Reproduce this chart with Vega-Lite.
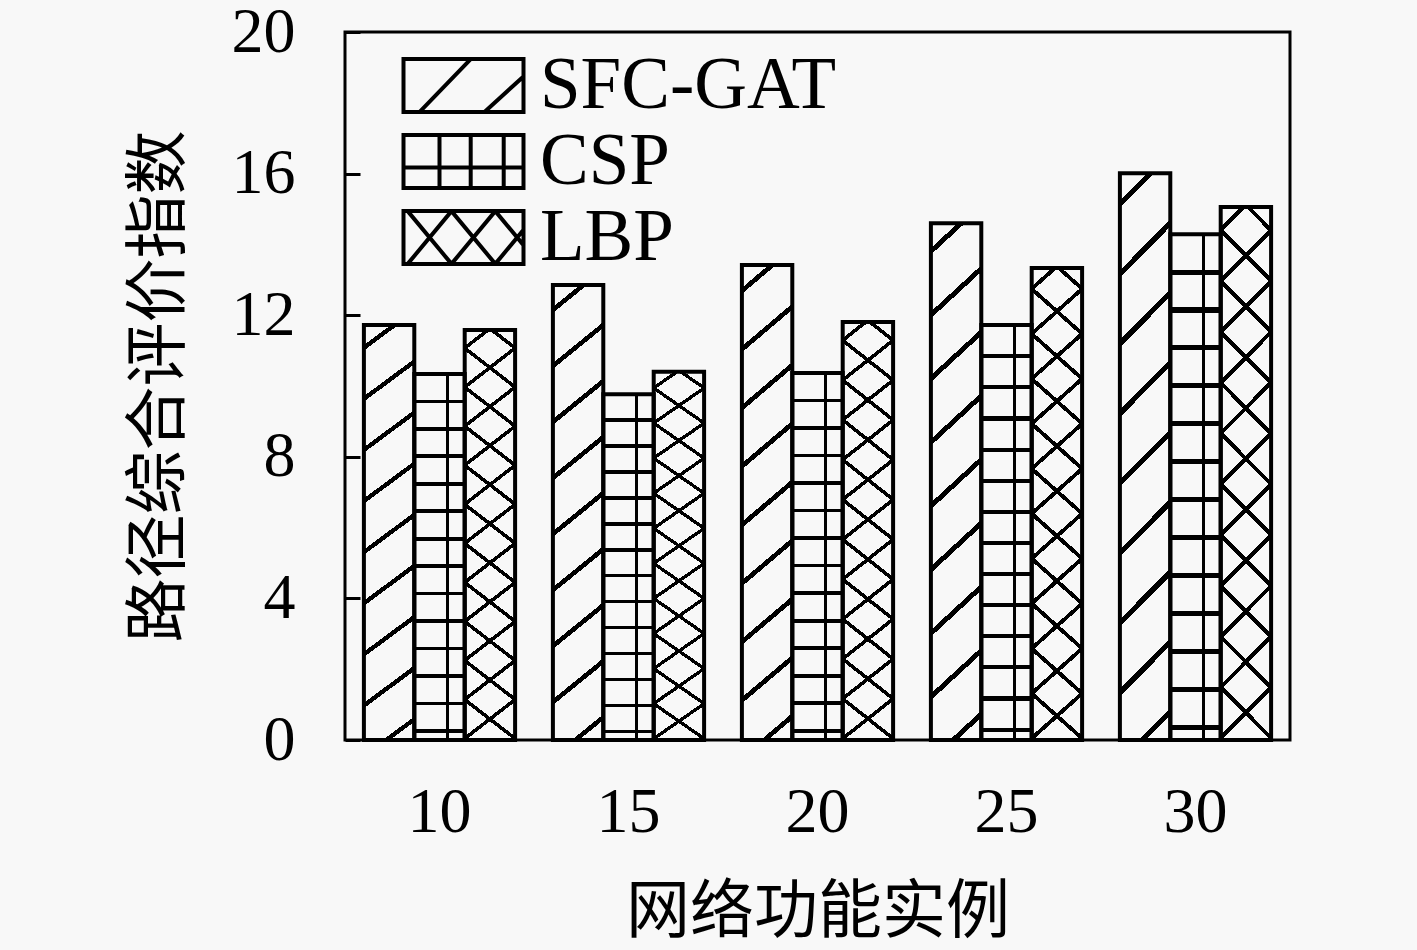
{
  "$schema": "https://vega.github.io/schema/vega-lite/v6.json",
  "description": "路径综合评价指数 vs 网络功能实例, three methods, hatched bars",
  "width": 945,
  "height": 708,
  "autosize": "none",
  "padding": {"left": 345, "top": 32, "right": 127, "bottom": 210},
  "background": "#f8f8f8",
  "data": {
    "values": [
      {"n": "10", "series": "SFC-GAT", "value": 11.72},
      {"n": "10", "series": "CSP", "value": 10.34},
      {"n": "10", "series": "LBP", "value": 11.58},
      {"n": "15", "series": "SFC-GAT", "value": 12.85},
      {"n": "15", "series": "CSP", "value": 9.77},
      {"n": "15", "series": "LBP", "value": 10.4},
      {"n": "20", "series": "SFC-GAT", "value": 13.42},
      {"n": "20", "series": "CSP", "value": 10.37},
      {"n": "20", "series": "LBP", "value": 11.81},
      {"n": "25", "series": "SFC-GAT", "value": 14.6},
      {"n": "25", "series": "CSP", "value": 11.72},
      {"n": "25", "series": "LBP", "value": 13.33},
      {"n": "30", "series": "SFC-GAT", "value": 16.01},
      {"n": "30", "series": "CSP", "value": 14.29},
      {"n": "30", "series": "LBP", "value": 15.06}
    ]
  },
  "encoding": {
    "x": {
      "field": "n",
      "type": "ordinal",
      "title": "网络功能实例",
      "scale": {"paddingInner": 0.2, "paddingOuter": 0.1},
      "axis": {
        "labelAngle": 0,
        "ticks": false,
        "tickSize": 0,
        "domain": false,
        "labelPadding": 40,
        "titlePadding": 36
      }
    },
    "xOffset": {
      "field": "series",
      "type": "nominal",
      "scale": {"domain": ["SFC-GAT", "CSP", "LBP"], "paddingInner": 0, "paddingOuter": 0}
    },
    "y": {
      "field": "value",
      "type": "quantitative",
      "title": "路径综合评价指数",
      "scale": {"domain": [0, 20], "nice": false},
      "axis": {
        "values": [0, 4, 8, 12, 16, 20],
        "grid": false,
        "domain": false,
        "tickSize": -15,
        "tickWidth": 3,
        "tickColor": "black",
        "labelPadding": 65,
        "titlePadding": 40
      }
    }
  },
  "layer": [
    {
      "transform": [{"filter": "datum.series == 'SFC-GAT'"}],
      "mark": {
        "type": "bar",
        "stroke": "black",
        "strokeWidth": 4,
        "fill": {
          "gradient": "linear",
          "x1": 0, "y1": 0, "x2": 0.0973, "y2": 1.0813,
          "stops": [
            {"offset": 0, "color": "rgba(0,0,0,0)"},
            {"offset": 0.044, "color": "rgba(0,0,0,0)"}, {"offset": 0.044, "color": "#000"}, {"offset": 0.056, "color": "#000"}, {"offset": 0.056, "color": "rgba(0,0,0,0)"},
            {"offset": 0.157, "color": "rgba(0,0,0,0)"}, {"offset": 0.157, "color": "#000"}, {"offset": 0.169, "color": "#000"}, {"offset": 0.169, "color": "rgba(0,0,0,0)"},
            {"offset": 0.27, "color": "rgba(0,0,0,0)"}, {"offset": 0.27, "color": "#000"}, {"offset": 0.282, "color": "#000"}, {"offset": 0.282, "color": "rgba(0,0,0,0)"},
            {"offset": 0.383, "color": "rgba(0,0,0,0)"}, {"offset": 0.383, "color": "#000"}, {"offset": 0.395, "color": "#000"}, {"offset": 0.395, "color": "rgba(0,0,0,0)"},
            {"offset": 0.496, "color": "rgba(0,0,0,0)"}, {"offset": 0.496, "color": "#000"}, {"offset": 0.508, "color": "#000"}, {"offset": 0.508, "color": "rgba(0,0,0,0)"},
            {"offset": 0.609, "color": "rgba(0,0,0,0)"}, {"offset": 0.609, "color": "#000"}, {"offset": 0.621, "color": "#000"}, {"offset": 0.621, "color": "rgba(0,0,0,0)"},
            {"offset": 0.722, "color": "rgba(0,0,0,0)"}, {"offset": 0.722, "color": "#000"}, {"offset": 0.734, "color": "#000"}, {"offset": 0.734, "color": "rgba(0,0,0,0)"},
            {"offset": 0.835, "color": "rgba(0,0,0,0)"}, {"offset": 0.835, "color": "#000"}, {"offset": 0.847, "color": "#000"}, {"offset": 0.847, "color": "rgba(0,0,0,0)"},
            {"offset": 0.948, "color": "rgba(0,0,0,0)"}, {"offset": 0.948, "color": "#000"}, {"offset": 0.96, "color": "#000"}, {"offset": 0.96, "color": "rgba(0,0,0,0)"},
            {"offset": 1, "color": "rgba(0,0,0,0)"}
          ]
        }
      }
    },
    {
      "transform": [{"filter": "datum.series == 'CSP'"}],
      "mark": {
        "type": "bar",
        "strokeWidth": 0,
        "fill": {
          "gradient": "linear",
          "x1": 0, "y1": 0, "x2": 0, "y2": 1,
          "stops": [
            {"offset": 0, "color": "rgba(0,0,0,0)"},
            {"offset": 0.07, "color": "rgba(0,0,0,0)"}, {"offset": 0.07, "color": "#000"}, {"offset": 0.08, "color": "#000"}, {"offset": 0.08, "color": "rgba(0,0,0,0)"},
            {"offset": 0.145, "color": "rgba(0,0,0,0)"}, {"offset": 0.145, "color": "#000"}, {"offset": 0.155, "color": "#000"}, {"offset": 0.155, "color": "rgba(0,0,0,0)"},
            {"offset": 0.22, "color": "rgba(0,0,0,0)"}, {"offset": 0.22, "color": "#000"}, {"offset": 0.23, "color": "#000"}, {"offset": 0.23, "color": "rgba(0,0,0,0)"},
            {"offset": 0.295, "color": "rgba(0,0,0,0)"}, {"offset": 0.295, "color": "#000"}, {"offset": 0.305, "color": "#000"}, {"offset": 0.305, "color": "rgba(0,0,0,0)"},
            {"offset": 0.37, "color": "rgba(0,0,0,0)"}, {"offset": 0.37, "color": "#000"}, {"offset": 0.38, "color": "#000"}, {"offset": 0.38, "color": "rgba(0,0,0,0)"},
            {"offset": 0.445, "color": "rgba(0,0,0,0)"}, {"offset": 0.445, "color": "#000"}, {"offset": 0.455, "color": "#000"}, {"offset": 0.455, "color": "rgba(0,0,0,0)"},
            {"offset": 0.52, "color": "rgba(0,0,0,0)"}, {"offset": 0.52, "color": "#000"}, {"offset": 0.53, "color": "#000"}, {"offset": 0.53, "color": "rgba(0,0,0,0)"},
            {"offset": 0.595, "color": "rgba(0,0,0,0)"}, {"offset": 0.595, "color": "#000"}, {"offset": 0.605, "color": "#000"}, {"offset": 0.605, "color": "rgba(0,0,0,0)"},
            {"offset": 0.67, "color": "rgba(0,0,0,0)"}, {"offset": 0.67, "color": "#000"}, {"offset": 0.68, "color": "#000"}, {"offset": 0.68, "color": "rgba(0,0,0,0)"},
            {"offset": 0.745, "color": "rgba(0,0,0,0)"}, {"offset": 0.745, "color": "#000"}, {"offset": 0.755, "color": "#000"}, {"offset": 0.755, "color": "rgba(0,0,0,0)"},
            {"offset": 0.82, "color": "rgba(0,0,0,0)"}, {"offset": 0.82, "color": "#000"}, {"offset": 0.83, "color": "#000"}, {"offset": 0.83, "color": "rgba(0,0,0,0)"},
            {"offset": 0.895, "color": "rgba(0,0,0,0)"}, {"offset": 0.895, "color": "#000"}, {"offset": 0.905, "color": "#000"}, {"offset": 0.905, "color": "rgba(0,0,0,0)"},
            {"offset": 0.97, "color": "rgba(0,0,0,0)"}, {"offset": 0.97, "color": "#000"}, {"offset": 0.98, "color": "#000"}, {"offset": 0.98, "color": "rgba(0,0,0,0)"},
            {"offset": 1, "color": "rgba(0,0,0,0)"}
          ]
        }
      }
    },
    {
      "transform": [{"filter": "datum.series == 'CSP'"}],
      "mark": {
        "type": "bar",
        "stroke": "black",
        "strokeWidth": 4,
        "fill": {
          "gradient": "linear",
          "x1": 0, "y1": 0, "x2": 1, "y2": 0,
          "stops": [
            {"offset": 0, "color": "rgba(0,0,0,0)"},
            {"offset": 0.63, "color": "rgba(0,0,0,0)"}, {"offset": 0.63, "color": "#000"}, {"offset": 0.69, "color": "#000"}, {"offset": 0.69, "color": "rgba(0,0,0,0)"},
            {"offset": 1, "color": "rgba(0,0,0,0)"}
          ]
        }
      }
    },
    {
      "transform": [{"filter": "datum.series == 'LBP'"}],
      "mark": {
        "type": "bar",
        "strokeWidth": 0,
        "fill": {
          "gradient": "linear",
          "x1": 1, "y1": 0, "x2": 0.8969, "y2": 1.0852,
          "stops": [
            {"offset": 0, "color": "rgba(0,0,0,0)"},
            {"offset": 0.035, "color": "rgba(0,0,0,0)"}, {"offset": 0.035, "color": "#000"}, {"offset": 0.045, "color": "#000"}, {"offset": 0.045, "color": "rgba(0,0,0,0)"},
            {"offset": 0.122, "color": "rgba(0,0,0,0)"}, {"offset": 0.122, "color": "#000"}, {"offset": 0.132, "color": "#000"}, {"offset": 0.132, "color": "rgba(0,0,0,0)"},
            {"offset": 0.209, "color": "rgba(0,0,0,0)"}, {"offset": 0.209, "color": "#000"}, {"offset": 0.219, "color": "#000"}, {"offset": 0.219, "color": "rgba(0,0,0,0)"},
            {"offset": 0.296, "color": "rgba(0,0,0,0)"}, {"offset": 0.296, "color": "#000"}, {"offset": 0.306, "color": "#000"}, {"offset": 0.306, "color": "rgba(0,0,0,0)"},
            {"offset": 0.383, "color": "rgba(0,0,0,0)"}, {"offset": 0.383, "color": "#000"}, {"offset": 0.393, "color": "#000"}, {"offset": 0.393, "color": "rgba(0,0,0,0)"},
            {"offset": 0.47, "color": "rgba(0,0,0,0)"}, {"offset": 0.47, "color": "#000"}, {"offset": 0.48, "color": "#000"}, {"offset": 0.48, "color": "rgba(0,0,0,0)"},
            {"offset": 0.557, "color": "rgba(0,0,0,0)"}, {"offset": 0.557, "color": "#000"}, {"offset": 0.567, "color": "#000"}, {"offset": 0.567, "color": "rgba(0,0,0,0)"},
            {"offset": 0.644, "color": "rgba(0,0,0,0)"}, {"offset": 0.644, "color": "#000"}, {"offset": 0.654, "color": "#000"}, {"offset": 0.654, "color": "rgba(0,0,0,0)"},
            {"offset": 0.731, "color": "rgba(0,0,0,0)"}, {"offset": 0.731, "color": "#000"}, {"offset": 0.741, "color": "#000"}, {"offset": 0.741, "color": "rgba(0,0,0,0)"},
            {"offset": 0.818, "color": "rgba(0,0,0,0)"}, {"offset": 0.818, "color": "#000"}, {"offset": 0.828, "color": "#000"}, {"offset": 0.828, "color": "rgba(0,0,0,0)"},
            {"offset": 0.905, "color": "rgba(0,0,0,0)"}, {"offset": 0.905, "color": "#000"}, {"offset": 0.915, "color": "#000"}, {"offset": 0.915, "color": "rgba(0,0,0,0)"},
            {"offset": 1, "color": "rgba(0,0,0,0)"}
          ]
        }
      }
    },
    {
      "transform": [{"filter": "datum.series == 'LBP'"}],
      "mark": {
        "type": "bar",
        "stroke": "black",
        "strokeWidth": 4,
        "fill": {
          "gradient": "linear",
          "x1": 0, "y1": 0, "x2": 0.1031, "y2": 1.0852,
          "stops": [
            {"offset": 0, "color": "rgba(0,0,0,0)"},
            {"offset": 0.035, "color": "rgba(0,0,0,0)"}, {"offset": 0.035, "color": "#000"}, {"offset": 0.045, "color": "#000"}, {"offset": 0.045, "color": "rgba(0,0,0,0)"},
            {"offset": 0.122, "color": "rgba(0,0,0,0)"}, {"offset": 0.122, "color": "#000"}, {"offset": 0.132, "color": "#000"}, {"offset": 0.132, "color": "rgba(0,0,0,0)"},
            {"offset": 0.209, "color": "rgba(0,0,0,0)"}, {"offset": 0.209, "color": "#000"}, {"offset": 0.219, "color": "#000"}, {"offset": 0.219, "color": "rgba(0,0,0,0)"},
            {"offset": 0.296, "color": "rgba(0,0,0,0)"}, {"offset": 0.296, "color": "#000"}, {"offset": 0.306, "color": "#000"}, {"offset": 0.306, "color": "rgba(0,0,0,0)"},
            {"offset": 0.383, "color": "rgba(0,0,0,0)"}, {"offset": 0.383, "color": "#000"}, {"offset": 0.393, "color": "#000"}, {"offset": 0.393, "color": "rgba(0,0,0,0)"},
            {"offset": 0.47, "color": "rgba(0,0,0,0)"}, {"offset": 0.47, "color": "#000"}, {"offset": 0.48, "color": "#000"}, {"offset": 0.48, "color": "rgba(0,0,0,0)"},
            {"offset": 0.557, "color": "rgba(0,0,0,0)"}, {"offset": 0.557, "color": "#000"}, {"offset": 0.567, "color": "#000"}, {"offset": 0.567, "color": "rgba(0,0,0,0)"},
            {"offset": 0.644, "color": "rgba(0,0,0,0)"}, {"offset": 0.644, "color": "#000"}, {"offset": 0.654, "color": "#000"}, {"offset": 0.654, "color": "rgba(0,0,0,0)"},
            {"offset": 0.731, "color": "rgba(0,0,0,0)"}, {"offset": 0.731, "color": "#000"}, {"offset": 0.741, "color": "#000"}, {"offset": 0.741, "color": "rgba(0,0,0,0)"},
            {"offset": 0.818, "color": "rgba(0,0,0,0)"}, {"offset": 0.818, "color": "#000"}, {"offset": 0.828, "color": "#000"}, {"offset": 0.828, "color": "rgba(0,0,0,0)"},
            {"offset": 0.905, "color": "rgba(0,0,0,0)"}, {"offset": 0.905, "color": "#000"}, {"offset": 0.915, "color": "#000"}, {"offset": 0.915, "color": "rgba(0,0,0,0)"},
            {"offset": 1, "color": "rgba(0,0,0,0)"}
          ]
        }
      }
    },
    {
      "mark": {"type": "point", "opacity": 0, "color": "black", "filled": false},
      "encoding": {
        "shape": {
          "field": "series",
          "type": "nominal",
          "scale": {
            "domain": ["SFC-GAT", "CSP", "LBP"],
            "range": [
              "M-2,-0.88H2V0.88H-2ZM-1.46,0.88L0.24,-0.88M0.7,0.88L2,-0.3",
              "M-2,-0.88H2V0.88H-2ZM-0.8,-0.88V0.88M0.24,-0.88V0.88M1.34,-0.88V0.88M-2,0.2H2",
              "M-2,-0.88H2V0.88H-2ZM-1.86,-0.88L-0.4,0.88M-0.4,-0.88L1.06,0.88M1.06,-0.88L2,0.254M-1.86,0.88L-0.4,-0.88M-0.4,0.88L1.06,-0.88M1.06,0.88L2,-0.254"
            ]
          },
          "legend": {
            "title": null,
            "orient": "none",
            "legendX": 82,
            "legendY": 17,
            "padding": 0,
            "symbolSize": 3600,
            "symbolStrokeWidth": 4,
            "symbolStrokeColor": "black",
            "symbolFillColor": "transparent",
            "symbolOpacity": 1,
            "labelFont": "Liberation Serif",
            "labelFontSize": 73,
            "labelColor": "black",
            "labelLimit": 0,
            "labelOffset": 40,
            "rowPadding": 2
          }
        }
      }
    }
  ],
  "config": {
    "view": {"stroke": "black", "strokeWidth": 3},
    "axis": {
      "labelFont": "Liberation Serif",
      "labelFontSize": 64,
      "labelColor": "black",
      "titleFont": "Noto Sans CJK SC",
      "titleFontSize": 64,
      "titleFontWeight": "normal",
      "titleColor": "black"
    }
  }
}
